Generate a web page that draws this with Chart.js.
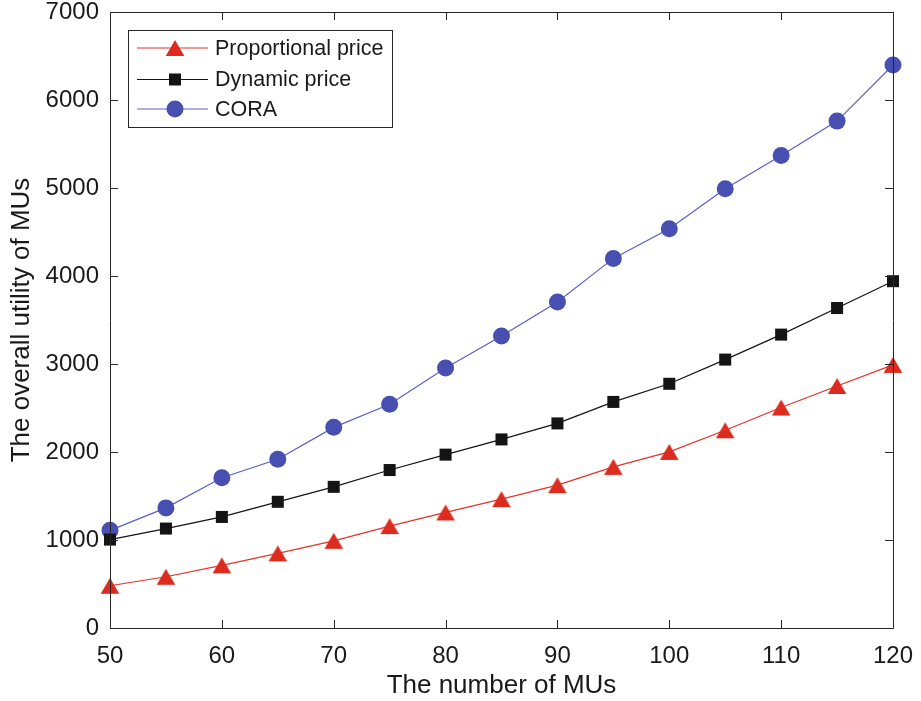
<!DOCTYPE html>
<html>
<head>
<meta charset="utf-8">
<script src="https://cdn.jsdelivr.net/npm/chart.js@4/dist/chart.umd.min.js"></script>
<style>
html,body{margin:0;padding:0;background:#fff;}
canvas{display:block;}
</style>
</head>
<body>
<canvas id="c" width="921" height="701"></canvas>
<script>
const numberOfMUs = [50, 55, 60, 65, 70, 75, 80, 85, 90, 95, 100, 105, 110, 115, 120];
const proportionalPrice = [480, 582, 712, 848, 991, 1158, 1313, 1464, 1623, 1831, 2001, 2247, 2505, 2750, 2990];
const dynamicPrice = [1005, 1130, 1262, 1434, 1604, 1795, 1970, 2143, 2325, 2569, 2775, 3050, 3334, 3636, 3941];
const cora = [1110, 1365, 1708, 1918, 2280, 2542, 2955, 3318, 3704, 4200, 4537, 4991, 5369, 5760, 6398];
const seriesNames = ["Proportional price", "Dynamic price", "CORA"];
const xTitle = "The number of MUs";
const yTitle = "The overall utility of MUs";

const FONT = "Arial, 'Liberation Sans', Helvetica, sans-serif";
const RED = "#dc2b1f", RED_LINE = "#e2342a";
const BLK = "#141414";
const BLUE = "#4750b0", BLUE_LINE = "#5a60c4";

function triangleImg(color){
  const c = document.createElement('canvas');
  c.width = 20; c.height = 18;
  const g = c.getContext('2d');
  g.fillStyle = color;
  g.beginPath();
  g.moveTo(10, 1); g.lineTo(19.3, 17); g.lineTo(0.7, 17); g.closePath();
  g.fill();
  return c;
}
const tri = triangleImg(RED);

function pts(arr){ return numberOfMUs.map((x,i)=>({x:x, y:arr[i]})); }

const frameAndTicks = {
  id:'frameAndTicks',
  afterDatasetsDraw(chart){
    const {ctx, chartArea:a, scales} = chart;
    ctx.save();
    ctx.strokeStyle = "#262626";
    ctx.lineWidth = 1;
    ctx.beginPath();
    ctx.rect(Math.round(a.left)+0.5, Math.round(a.top)+0.5, Math.round(a.right-a.left), Math.round(a.bottom-a.top));
    ctx.stroke();
    const L = 8;
    ctx.beginPath();
    scales.x.ticks.forEach(t=>{
      const px = Math.round(scales.x.getPixelForValue(t.value))+0.5;
      ctx.moveTo(px, a.bottom); ctx.lineTo(px, a.bottom-L);
      ctx.moveTo(px, a.top); ctx.lineTo(px, a.top+L);
    });
    scales.y.ticks.forEach(t=>{
      const py = Math.round(scales.y.getPixelForValue(t.value))+0.5;
      ctx.moveTo(a.left, py); ctx.lineTo(a.left+L, py);
      ctx.moveTo(a.right, py); ctx.lineTo(a.right-L, py);
    });
    ctx.stroke();
    ctx.restore();
  },
  afterDraw(chart){
    const {ctx, chartArea:a} = chart;
    ctx.save();
    ctx.fillStyle = "#1a1a1a";
    ctx.font = "26px " + FONT;
    ctx.textAlign = "center";
    ctx.textBaseline = "middle";
    ctx.fillText(xTitle, (a.left+a.right)/2, 686);
    ctx.translate(22, (a.top+a.bottom)/2);
    ctx.rotate(-Math.PI/2);
    ctx.fillText(yTitle, 0, 0);
    ctx.restore();

    ctx.save();
    const bx = 128.5, by = 30.5, bw = 264, bh = 97;
    ctx.fillStyle = "#fff";
    ctx.fillRect(bx, by, bw, bh);
    ctx.strokeStyle = "#262626";
    ctx.lineWidth = 1;
    ctx.strokeRect(bx, by, bw, bh);
    const rows = [48, 79.5, 109];
    const ds = chart.data.datasets;
    ds.forEach((d,i)=>{
      const y = rows[i];
      ctx.strokeStyle = d.borderColor;
      ctx.lineWidth = 1;
      ctx.beginPath(); ctx.moveTo(137, y); ctx.lineTo(208, y); ctx.stroke();
      const mx = 175;
      if(i===0){
        ctx.drawImage(tri, mx-10, y-9);
      } else if(i===1){
        ctx.fillStyle = BLK;
        ctx.fillRect(mx-6, y-6, 12, 12);
      } else {
        ctx.fillStyle = BLUE;
        ctx.beginPath(); ctx.arc(mx, y, 8.5, 0, Math.PI*2); ctx.fill();
      }
      ctx.fillStyle = "#1a1a1a";
      ctx.font = "21.5px " + FONT;
      ctx.textAlign = "left";
      ctx.textBaseline = "middle";
      ctx.fillText(d.label, 215, y+1);
    });
    ctx.restore();
  }
};

new Chart(document.getElementById('c'), {
  type: 'line',
  data: {
    datasets: [
      {label: seriesNames[0], data: pts(proportionalPrice), borderColor: RED_LINE, borderWidth: 1.2,
       pointStyle: tri, pointRadius: 10, pointHoverRadius: 10, backgroundColor: RED, clip: false},
      {label: seriesNames[1], data: pts(dynamicPrice), borderColor: BLK, borderWidth: 1.2,
       pointStyle: 'rect', pointRadius: 8.5, pointHoverRadius: 8.5, pointBackgroundColor: BLK, pointBorderColor: BLK, pointBorderWidth: 0, clip: false},
      {label: seriesNames[2], data: pts(cora), borderColor: BLUE_LINE, borderWidth: 1.2,
       pointStyle: 'circle', pointRadius: 8.5, pointHoverRadius: 8.5, pointBackgroundColor: BLUE, pointBorderColor: BLUE, pointBorderWidth: 0, clip: false}
    ]
  },
  options: {
    responsive: false,
    animation: false,
    events: [],
    layout: {padding: {top: 12, right: 28, left: 0, bottom: 0}, autoPadding: false},
    plugins: {legend: {display: false}, tooltip: {enabled: false}},
    elements: {line: {tension: 0}},
    scales: {
      x: {
        type: 'linear', min: 50, max: 120,
        ticks: {stepSize: 10, color: "#1a1a1a", font: {family: FONT, size: 24}, padding: 14, maxRotation: 0,
                callback: v => String(v)},
        grid: {display: false, drawTicks: false},
        border: {display: false},
        afterFit(s){ s.height = 73; s.paddingLeft = 0; s.paddingRight = 0; }
      },
      y: {
        type: 'linear', min: 0, max: 7000,
        ticks: {stepSize: 1000, color: "#1a1a1a", font: {family: FONT, size: 24}, padding: 11,
                callback: v => String(v)},
        grid: {display: false, drawTicks: false},
        border: {display: false},
        afterFit(s){ s.width = 110; s.paddingTop = 0; s.paddingBottom = 0; }
      }
    }
  },
  plugins: [frameAndTicks]
});
</script>
</body>
</html>
